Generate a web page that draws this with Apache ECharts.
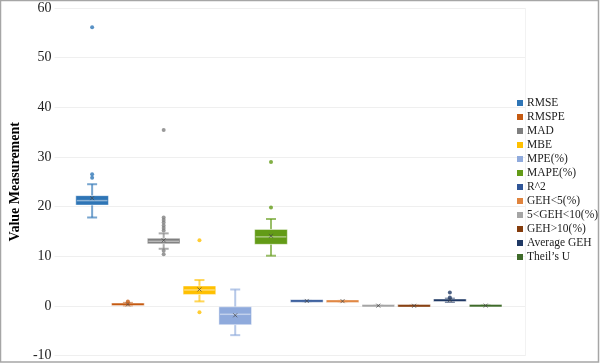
<!DOCTYPE html>
<html>
<head>
<meta charset="utf-8">
<script src="https://cdn.jsdelivr.net/npm/echarts@6/dist/echarts.min.js"></script>
<style>html,body{margin:0;padding:0;background:#fff}#c{width:600px;height:364px}</style>
</head>
<body>
<div id="c"></div>
<script>
const categories = ['RMSE','RMSPE','MAD','MBE','MPE(%)','MAPE(%)','R^2','GEH<5(%)','5<GEH<10(%)','GEH>10(%)','Average GEH','Theil’s U'];
const colors = ['#2e75b6','#c55a11','#7f7f7f','#ffc000','#8faadc','#639b17','#2f5597','#e0843e','#a5a5a5','#843c0c','#1f3864','#3f6b2a'];
const boxMin    = [17.8, 0.1, 11.5, 0.9, -5.9, 10.1, 0.95, 0.88, 0.0, 0.0, 0.8, 0.02];
const boxQ1     = [20.3, 0.2, 12.5, 2.3, -3.8, 12.4, 0.98, 0.92, 0.0, 0.0, 0.95, 0.03];
const boxMedian = [21.2, 0.3, 13.0, 3.2, -1.7, 13.9, 0.99, 0.95, 0.03, 0.0, 1.1, 0.05];
const boxQ3     = [22.2, 0.4, 13.6, 4.0, -0.2, 15.4, 1.0, 0.97, 0.05, 0.01, 1.3, 0.06];
const boxMax    = [24.5, 0.6, 14.6, 5.2, 3.3, 17.5, 1.0, 1.0, 0.1, 0.02, 1.45, 0.08];
const boxMean   = [21.7, 0.3, 13.2, 3.3, -1.9, 14.1, 0.99, 0.95, 0.04, 0.01, 1.15, 0.05];
const outlierIndex = [0, 0, 0, 1, 2, 2, 2, 2, 2, 2, 2, 2, 2, 3, 3, 5, 5, 10, 10];
const outlierValue = [56.1, 26.5, 25.8, 0.9, 35.4, 17.8, 17.3, 16.8, 16.2, 15.7, 15.2, 11.1, 10.4, 13.2, -1.3, 29.0, 19.8, 2.7, 1.7];
const yTicks = [-10, 0, 10, 20, 30, 40, 50, 60];

function hexA(hex, a) {
  const n = parseInt(hex.slice(1), 16);
  return 'rgba(' + ((n >> 16) & 255) + ',' + ((n >> 8) & 255) + ',' + (n & 255) + ',' + a + ')';
}

const series = [];
categories.forEach(function (name, k) {
  const col = colors[k];
  series.push({
    name: name,
    type: 'custom',
    itemStyle: { color: col },
    data: [[k, boxMin[k], boxQ1[k], boxMedian[k], boxQ3[k], boxMax[k], boxMean[k]]],
    encode: { x: 0, y: [1, 2, 3, 4, 5] },
    renderItem: function (params, api) {
      const i = api.value(0);
      const pMin = api.coord([i, api.value(1)]);
      const pQ1 = api.coord([i, api.value(2)]);
      const pMed = api.coord([i, api.value(3)]);
      const pQ3 = api.coord([i, api.value(4)]);
      const pMax = api.coord([i, api.value(5)]);
      const pMean = api.coord([i, api.value(6)]);
      const cx = pMed[0];
      const bw = api.size([1, 0])[0] * 0.912;
      const wc = hexA(col, 0.65);
      const h = Math.max(pQ1[1] - pQ3[1], 2.5);
      const top = (pQ1[1] - pQ3[1] < 2.5) ? (pQ1[1] + pQ3[1]) / 2 - 1.25 : pQ3[1];
      const ch = [
        { type: 'line', shape: { x1: cx, y1: pMax[1], x2: cx, y2: pQ3[1] }, style: { stroke: wc, lineWidth: 2 } },
        { type: 'line', shape: { x1: cx, y1: pQ1[1], x2: cx, y2: pMin[1] }, style: { stroke: wc, lineWidth: 2 } },
        { type: 'line', shape: { x1: cx - 5, y1: pMax[1], x2: cx + 5, y2: pMax[1] }, style: { stroke: wc, lineWidth: 2 } },
        { type: 'line', shape: { x1: cx - 5, y1: pMin[1], x2: cx + 5, y2: pMin[1] }, style: { stroke: wc, lineWidth: 2 } },
        { type: 'rect', shape: { x: cx - bw / 2, y: top, width: bw, height: h }, style: { fill: col, stroke: 'rgba(255,255,255,0.45)', lineWidth: 1 } }
      ];
      if (pQ1[1] - pQ3[1] > 4) {
        ch.push({ type: 'line', shape: { x1: cx - bw / 2 + 1, y1: pMed[1], x2: cx + bw / 2 - 1, y2: pMed[1] }, style: { stroke: 'rgba(255,255,255,0.45)', lineWidth: 1.5 } });
      }
      const s = 2;
      ch.push({ type: 'line', shape: { x1: pMean[0] - s, y1: pMean[1] - s, x2: pMean[0] + s, y2: pMean[1] + s }, style: { stroke: 'rgba(70,70,70,0.7)', lineWidth: 1 } });
      ch.push({ type: 'line', shape: { x1: pMean[0] - s, y1: pMean[1] + s, x2: pMean[0] + s, y2: pMean[1] - s }, style: { stroke: 'rgba(70,70,70,0.7)', lineWidth: 1 } });
      return { type: 'group', children: ch };
    }
  });
  const pts = [];
  outlierIndex.forEach(function (ix, j) { if (ix === k) pts.push([ix, outlierValue[j]]); });
  if (pts.length) {
    series.push({
      name: name,
      type: 'scatter',
      symbol: 'circle',
      symbolSize: 4,
      itemStyle: { color: col },
      data: pts,
      z: 3
    });
  }
});

const chart = echarts.init(document.getElementById('c'), null, { renderer: 'canvas' });
chart.setOption({
  animation: false,
  backgroundColor: '#fff',
  grid: { left: 35, right: 75, top: 8, bottom: 8.5, containLabel: false },
  xAxis: {
    type: 'value', min: -1.05, max: 12.1,
    show: true,
    axisLine: { show: false }, axisTick: { show: false }, axisLabel: { show: false }, splitLine: { show: false }
  },
  yAxis: {
    type: 'value', min: yTicks[0], max: yTicks[yTicks.length - 1], interval: 10,
    name: 'Value Measurement', nameLocation: 'middle', nameGap: 24,
    nameTextStyle: { fontFamily: 'Liberation Serif', fontWeight: 'bold', fontSize: 14, color: '#000' },
    axisLine: { show: false }, axisTick: { show: false },
    axisLabel: { fontFamily: 'Liberation Serif', fontSize: 14, color: '#222', margin: 3 },
    splitLine: { lineStyle: { color: '#efefef', width: 1 } }
  },
  legend: {
    orient: 'vertical', left: 512, top: 92,
    icon: 'rect', itemWidth: 6, itemHeight: 6, itemGap: 2,
    textStyle: { fontFamily: 'Liberation Serif', fontSize: 11.5, color: '#222', lineHeight: 12, padding: [0, 0, 0, -1] },
    data: categories
  },
  graphic: [
    { type: 'rect', shape: { x: 0.5, y: 0.5, width: 598, height: 361.5 }, style: { fill: 'none', stroke: '#a6a6a6', lineWidth: 1.5 }, silent: true },
    { type: 'line', shape: { x1: 525.5, y1: 8, x2: 525.5, y2: 356 }, style: { stroke: '#f2f2f2', lineWidth: 1 }, silent: true, z: -1 }
  ],
  series: series
});
</script>
</body>
</html>
